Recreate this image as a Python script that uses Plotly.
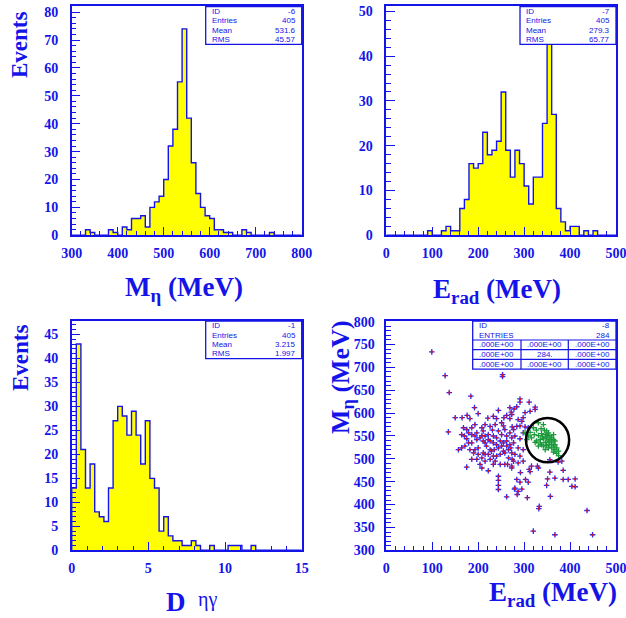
import plotly.graph_objects as go

W, H = 626, 618
BLUE = "#1414e8"
YELLOW = "#ffff00"

# ---------------- data ----------------
# Panel 1: M_eta histogram (300-800 MeV, 10 MeV bins)
meta_lo, meta_hi, meta_bw = 300, 800, 10
meta_counts = [0, 0, 0, 2, 1, 0, 0, 0, 2, 1,
               0, 3, 2, 6, 6, 7, 3, 10, 12, 14,
               20, 32, 38, 55, 74, 42, 26, 15, 10, 7,
               6, 2, 2, 1, 1, 0, 0, 2, 1, 0,
               0, 0, 0, 1, 0, 0, 0, 0, 0, 0]
meta_stats = [("ID", "-6"), ("Entries", "405"), ("Mean", "531.6"), ("RMS", "45.57")]

# Panel 2: E_rad histogram (0-500 MeV, 10 MeV bins)
erad_lo, erad_hi, erad_bw = 0, 500, 10
erad_counts = [0, 0, 0, 0, 0, 0, 0, 0, 0, 1,
               0, 0, 1, 2, 1, 1, 6, 8, 16, 15,
               16, 23, 18, 19, 21, 32, 19, 13, 19, 16,
               11, 7, 13, 13, 25, 46, 27, 6, 3, 1,
               2, 2, 0, 1, 0, 1, 0, 0, 0, 0]
erad_stats = [("ID", "-7"), ("Entries", "405"), ("Mean", "279.3"), ("RMS", "65.77")]

# Panel 3: D_eta-gamma histogram (0-15, 0.3 bins)
d_lo, d_hi, d_bw = 0, 15, 0.3
d_counts = [13, 43, 21, 13, 18, 8, 7, 6, 13, 27,
            30, 28, 24, 29, 24, 18, 27, 15, 13, 4,
            7, 3, 2, 2, 1, 1, 2, 1, 0, 0,
            1, 0, 0, 0, 1, 1, 1, 0, 0, 1,
            0, 0, 0, 0, 0, 0, 0, 0, 0, 0]
d_stats = [("ID", "-1"), ("Entries", "405"), ("Mean", "3.215"), ("RMS", "1.997")]

# Panel 4: scatter E_rad vs M_eta
scat_erad = [99, 128, 137, 184, 253, 253, 291, 311, 324, 278, 313, 298, 287, 274, 291, 298, 309, 157, 164, 175,
             135, 150, 165, 192, 200, 244, 272, 262, 176, 182, 221, 233, 240, 256, 269, 168, 175, 186, 193, 208,
             226, 237, 251, 244, 258, 269, 277, 179, 186, 197, 211, 215, 222, 233, 240, 251, 262, 273, 164, 175,
             179, 197, 204, 211, 226, 233, 248, 255, 262, 269, 277, 186, 193, 200, 218, 226, 229, 244, 255, 266,
             273, 190, 200, 215, 222, 233, 248, 258, 197, 208, 215, 226, 237, 204, 233, 248, 258, 208, 222, 244,
             244, 244, 244, 279, 264, 273, 231, 255, 215, 170, 208, 222, 240, 251, 262, 271, 235, 211, 240, 266,
             274, 186, 182, 171, 215, 193, 291, 269, 284, 302, 324, 273, 295, 284, 302, 280, 291, 287, 298, 280,
             291, 277, 287, 298, 273, 356, 382, 331, 316, 311, 356, 385, 351, 385, 411, 396, 284, 291, 303, 309,
             280, 295, 287, 349, 404, 411, 357, 333, 332, 437, 320, 367, 449, 307, 262, 285, 374, 367, 329, 313,
             292]
scat_meta = [734, 682, 645, 637, 684, 680, 631, 624, 613, 609, 604, 590, 586, 570, 572, 557, 568, 520, 524, 482,
             559, 590, 590, 612, 599, 606, 602, 595, 595, 588, 589, 593, 588, 590, 588, 568, 564, 568, 575, 568,
             571, 575, 579, 561, 564, 557, 564, 557, 553, 557, 561, 550, 553, 550, 546, 553, 550, 546, 553, 544,
             535, 542, 546, 539, 539, 535, 539, 535, 539, 531, 535, 535, 520, 524, 528, 520, 517, 524, 517, 520,
             513, 513, 510, 510, 510, 506, 510, 513, 499, 502, 495, 499, 495, 488, 488, 488, 488, 480, 474, 462,
             453, 442, 433, 434, 488, 484, 563, 572, 575, 550, 551, 542, 531, 528, 528, 524, 520, 513, 506, 502,
             499, 499, 520, 528, 535, 550, 624, 612, 614, 601, 608, 597, 582, 571, 570, 550, 544, 524, 520, 510,
             506, 495, 491, 495, 480, 498, 495, 480, 484, 477, 471, 475, 456, 455, 456, 455, 455, 449, 455, 449,
             436, 434, 429, 442, 440, 439, 418, 396, 391, 387, 342, 334, 334, 415, 417, 422, 493, 458, 484, 472,
             470]

# Selected (green) events
sel_erad = [331, 342, 320, 327, 337, 344, 349, 302, 313, 322, 331, 338, 346, 353, 356, 360, 349, 342, 335, 327,
            316, 309, 364, 367, 353, 346, 360, 367, 356, 349, 338, 331, 364, 371, 360, 367, 375, 364, 371, 375,
            353, 346, 335, 324, 306, 342, 356, 364, 340, 351]
sel_meta = [579, 575, 568, 563, 566, 563, 561, 557, 558, 553, 551, 555, 553, 557, 550, 546, 546, 544, 542, 539,
            546, 550, 542, 539, 539, 536, 535, 531, 531, 529, 531, 528, 528, 524, 524, 520, 517, 515, 512, 507,
            524, 520, 535, 536, 542, 528, 542, 553, 548, 551]

scat_box_rows = [("ID", "-8"), ("ENTRIES", "284")]
scat_table = [[".000E+00", ".000E+00", ".000E+00"],
              [".000E+00", "284.", ".000E+00"],
              [".000E+00", ".000E+00", ".000E+00"]]

# selection region (ellipse in data units)
sel_center = (351, 541)
sel_radius = (47, 48.5)

# ---------------- helpers ----------------
def PX(x):
    return x / W

def PY(y):
    return 1 - y / H


def step_xy(lo, bw, counts):
    n = len(counts)
    xs = [lo] + [lo + i * bw for i in range(n)] + [lo + n * bw, lo + n * bw]
    ys = [0] + list(counts) + [counts[-1], 0]
    return xs, ys


fig = go.Figure()

hists = [
    ("x", "y", meta_lo, meta_bw, meta_counts),
    ("x2", "y2", erad_lo, erad_bw, erad_counts),
    ("x3", "y3", d_lo, d_bw, d_counts),
]
for xa, ya, lo, bw, cnt in hists:
    xs, ys = step_xy(lo, bw, cnt)
    fig.add_trace(go.Scatter(x=xs, y=ys, mode="lines", line=dict(shape="hv", color=BLUE, width=1.4),
                             fill="tozeroy", fillcolor=YELLOW, xaxis=xa, yaxis=ya, showlegend=False,
                             hoverinfo="skip"))

fig.add_trace(go.Scatter(x=scat_erad, y=scat_meta, mode="markers", xaxis="x4", yaxis="y4", showlegend=False,
                         marker=dict(symbol="cross-thin", size=4, line=dict(color="#2a2aff", width=1.3))))
fig.add_trace(go.Scatter(x=scat_erad, y=scat_meta, mode="markers", xaxis="x4", yaxis="y4", showlegend=False,
                         marker=dict(symbol="square", size=2, color="#e01010", line=dict(width=0))))
fig.add_trace(go.Scatter(x=sel_erad, y=sel_meta, mode="markers", xaxis="x4", yaxis="y4", showlegend=False,
                         marker=dict(symbol="cross-thin", size=4, line=dict(color="#1a9a3a", width=1.3))))

tickfont = dict(family="Liberation Serif", size=14, color=BLUE, weight="bold")


def ax(domain, rng, dtick, minor_dtick, anchor, standoff):
    return dict(domain=domain, range=rng, dtick=dtick, tick0=rng[0], showline=True, automargin=False,
                linecolor=BLUE, linewidth=1.5, mirror=True, ticks="inside", ticklen=9, tickwidth=1.2,
                tickcolor=BLUE, showgrid=False, zeroline=False, tickfont=tickfont, anchor=anchor,
                ticklabelstandoff=standoff, ticklabeloverflow="allow",
                minor=dict(ticks="inside", ticklen=5, tickwidth=1, tickcolor=BLUE, dtick=minor_dtick,
                           showgrid=False))


x1d = [PX(71.7), PX(301.7)]
x2d = [PX(386.3), PX(616)]
ytop = [PY(235.3), PY(6)]
ybot = [PY(550.3), PY(321)]

fig.update_layout(
    width=W, height=H, margin=dict(l=0, r=0, t=0, b=0),
    paper_bgcolor="white", plot_bgcolor="white",
    xaxis=ax(x1d, [300, 800], 100, 20, "y", 4),
    yaxis=ax(ytop, [0, 82.2], 10, 2, "x", 9),
    xaxis2=ax(x2d, [0, 500], 100, 20, "y2", 4),
    yaxis2=ax(ytop, [0, 51.2], 10, 2, "x2", 9),
    xaxis3=ax(x1d, [0, 15], 5, 1, "y3", 4),
    yaxis3=ax(ybot, [0, 47.8], 5, 1, "x3", 9),
    xaxis4=ax(x2d, [0, 500], 100, 20, "y4", 4),
    yaxis4=ax(ybot, [300, 801.5], 50, 10, "x4", 7),
)

# selection circle
fig.add_shape(type="circle", xref="x4", yref="y4",
              x0=sel_center[0] - sel_radius[0], x1=sel_center[0] + sel_radius[0],
              y0=sel_center[1] - sel_radius[1], y1=sel_center[1] + sel_radius[1],
              line=dict(color="black", width=2.5))

anns = []
titlefont = dict(family="Liberation Serif", size=27, color=BLUE, weight="bold")
evfont = dict(family="Liberation Serif", size=23, color=BLUE, weight="bold")


def A(text, x, y, font, angle=0, xanchor="center", yanchor="middle"):
    anns.append(dict(text=text, x=PX(x), y=PY(y), xref="paper", yref="paper", showarrow=False,
                     font=font, textangle=angle, xanchor=xanchor, yanchor=yanchor))


A("Events", 20, 45, evfont, -90)
A("Events", 20, 358, evfont, -90)
A("M<sub>η</sub> (MeV)", 184, 289, titlefont)
A("E<sub>rad</sub> (MeV)", 497, 291, titlefont)
A("D", 176, 602, titlefont)
A("ηγ", 207, 599, dict(family="Liberation Serif", size=20, color=BLUE))
A("E<sub>rad</sub> (MeV)", 553, 594, titlefont)
A("M<sub>η</sub> (MeV)", 342, 377, dict(family="Liberation Serif", size=26, color=BLUE, weight="bold"), -90)

boxfont = dict(family="Liberation Sans", size=8, color=BLUE)
shapes = []


def stats_box(x0, x1, y0, rows):
    h = 9.4
    y1 = y0 + h * len(rows)
    shapes.append(dict(type="rect", xref="paper", yref="paper", x0=PX(x0), x1=PX(x1), y0=PY(y1), y1=PY(y0),
                       line=dict(color=BLUE, width=1.3), fillcolor="white", layer="above"))
    for k, (lab, val) in enumerate(rows):
        yc = y0 + h * (k + 0.5)
        A(lab, x0 + 4, yc, boxfont, xanchor="left")
        A(val, x1 - 4, yc, boxfont, xanchor="right")


stats_box(205.7, 301.7, 6.7, meta_stats)
stats_box(520, 616, 6.7, erad_stats)
stats_box(205.7, 301.7, 321, d_stats)

# scatter stat box with table
bx0, bx1, by0 = 472.7, 616, 321
row_h_top = 9.5
table_top = by0 + 2 * row_h_top
trow = 9.7
by1 = table_top + 3 * trow
shapes.append(dict(type="rect", xref="paper", yref="paper", x0=PX(bx0), x1=PX(bx1), y0=PY(by1), y1=PY(by0),
                   line=dict(color=BLUE, width=1.3), fillcolor="white", layer="above"))
for k, (lab, val) in enumerate(scat_box_rows):
    yc = by0 + row_h_top * (k + 0.5)
    A(lab, bx0 + 4, yc, boxfont, xanchor="left")
    A(val, bx1 - 4, yc, boxfont, xanchor="right")
for k in range(3):
    yl = table_top + k * trow
    shapes.append(dict(type="line", xref="paper", yref="paper", x0=PX(bx0), x1=PX(bx1), y0=PY(yl), y1=PY(yl),
                       line=dict(color=BLUE, width=1.2), layer="above"))
col_edges = [bx0, 521, 568.3, bx1]
for xe in col_edges[1:3]:
    shapes.append(dict(type="line", xref="paper", yref="paper", x0=PX(xe), x1=PX(xe), y0=PY(by1),
                       y1=PY(table_top), line=dict(color=BLUE, width=1.2), layer="above"))
for r, row in enumerate(scat_table):
    yc = table_top + trow * (r + 0.5)
    for c, val in enumerate(row):
        xc = (col_edges[c] + col_edges[c + 1]) / 2
        A(val, xc, yc, boxfont)

fig.update_layout(annotations=anns)
for s in shapes:
    fig.add_shape(**s)

fig.write_html("out.html", config={"displayModeBar": False},
               post_script="document.body.style.margin='0';document.body.style.padding='0';"
                           "document.documentElement.style.overflow='hidden';")
